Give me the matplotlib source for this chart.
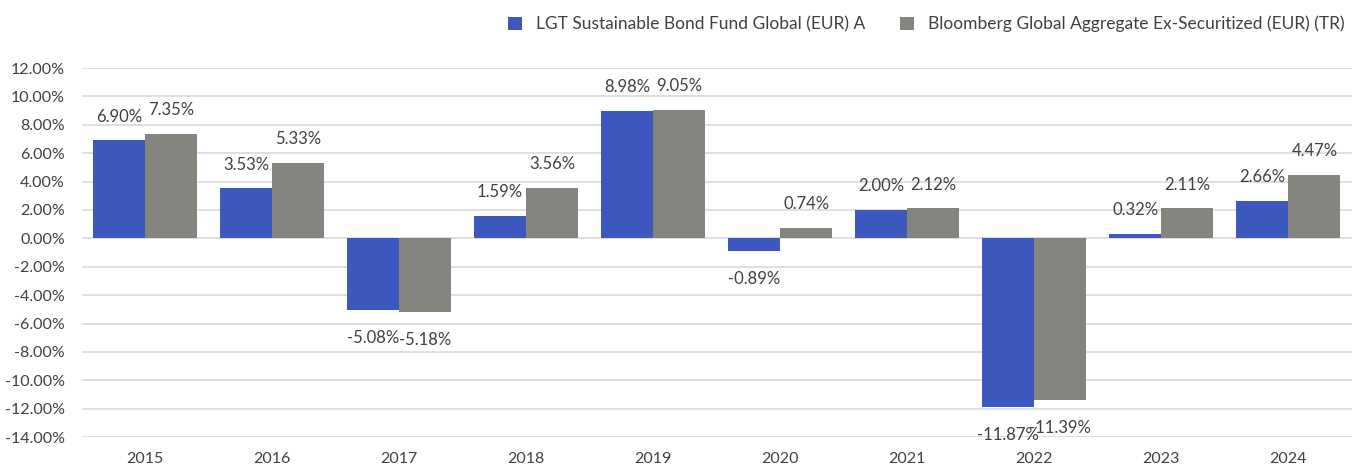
import matplotlib.pyplot as plt
import numpy as np

years = ["2015", "2016", "2017", "2018", "2019", "2020", "2021", "2022", "2023", "2024"]
fund = [6.90, 3.53, -5.08, 1.59, 8.98, -0.89, 2.00, -11.87, 0.32, 2.66]
bench = [7.35, 5.33, -5.18, 3.56, 9.05, 0.74, 2.12, -11.39, 2.11, 4.47]
fund_name = "LGT Sustainable Bond Fund Global (EUR) A"
bench_name = "Bloomberg Global Aggregate Ex-Securitized (EUR) (TR)"

plt.rcParams['font.family'] = ['Lato', 'DejaVu Sans']
txt = "#404040"

fig = plt.figure(figsize=(13.6, 4.66), dpi=100)
ax = fig.add_axes([0.060, 0.062, 0.934, 0.792])

x = np.arange(len(years))
w = 0.41
b1 = ax.bar(x - w / 2, fund, w, color="#3c58be", label=fund_name, zorder=2)
b2 = ax.bar(x + w / 2, bench, w, color="#858580", label=bench_name, zorder=2)

for bars, vals in [(b1, fund), (b2, bench)]:
    for r, v in zip(bars, vals):
        cx = r.get_x() + r.get_width() / 2
        off = 17 if v >= 0 else -20
        ax.annotate(f"{v:.2f}%", (cx, v), xytext=(0, off), textcoords="offset points",
                    ha="center", va="center", fontsize=12, color=txt)

ax.set_xlim(-0.5, len(years) - 0.5)
ax.set_ylim(-14, 12)
ax.set_yticks(np.arange(-14, 13, 2))
ax.set_yticklabels([f"{t:.2f}%" for t in np.arange(-14, 13, 2)])
ax.set_xticks(x)
ax.set_xticklabels(years)
ax.tick_params(length=0, labelsize=11.5, colors=txt)
ax.tick_params(axis="y", pad=12)
ax.tick_params(axis="x", pad=11)
ax.grid(axis="y", color="#d9d9d9", linewidth=1.2, zorder=0)
for s in ax.spines.values():
    s.set_visible(False)

fig.legend(loc="upper right", bbox_to_anchor=(1.0, 1.0), ncol=2, frameon=False,
           fontsize=12.5, handlelength=0.8, handleheight=0.8, columnspacing=2.0,
           labelcolor=txt)

fig.savefig("out.png", dpi=100)
